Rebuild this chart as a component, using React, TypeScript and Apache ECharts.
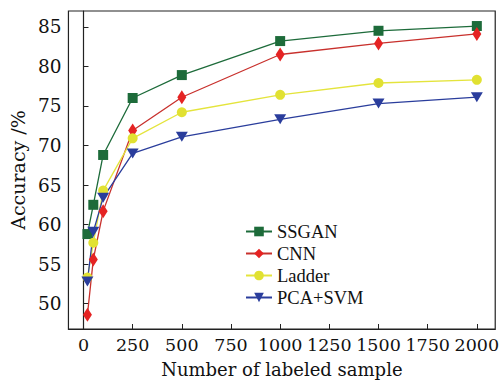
import React, { useEffect, useRef } from "react";
import * as echarts from "echarts";

const sampleSizes = [20, 50, 100, 250, 500, 1000, 1500, 2000];
const ssgan = [58.8, 62.5, 68.8, 76.0, 78.9, 83.2, 84.5, 85.1];
const cnn = [48.6, 55.6, 61.7, 71.9, 76.1, 81.5, 82.9, 84.1];
const ladder = [53.3, 57.7, 64.3, 70.9, 74.2, 76.4, 77.9, 78.3];
const pcaSvm = [52.8, 59.1, 63.4, 69.0, 71.1, 73.3, 75.3, 76.1];

const seriesNames = ["SSGAN", "CNN", "Ladder", "PCA+SVM"];
const xTicks = [0, 250, 500, 750, 1000, 1250, 1500, 1750, 2000];
const yTicks = [50, 55, 60, 65, 70, 75, 80, 85];

const FONT = "DejaVu Serif";
const LEGEND_FONT = "Liberation Serif";

export default function App() {
  const ref = useRef<HTMLDivElement>(null);
  useEffect(() => {
    if (!ref.current) return;
    const chart = echarts.init(ref.current, null, { renderer: "svg" });
    const mk = (arr: number[]) => sampleSizes.map((x, i) => [x, arr[i]]);
    chart.setOption({
      animation: false,
      backgroundColor: "#fff",
      textStyle: { fontFamily: FONT },
      grid: {
        left: 66,
        right: 2,
        top: 11,
        bottom: 49,
        show: true,
        borderColor: "#222",
        borderWidth: 1.2,
      },
      legend: {
        orient: "vertical",
        left: 240,
        top: 217,
        itemWidth: 26,
        itemHeight: 12,
        itemGap: 3,
        textStyle: {
          fontFamily: LEGEND_FONT,
          fontSize: 18.5,
          color: "#111",
        },
        data: seriesNames,
      },
      xAxis: {
        type: "value",
        min: -76.5,
        max: 2093.5,
        name: "Number of labeled sample",
        nameLocation: "middle",
        nameGap: 31,
        nameTextStyle: { fontFamily: FONT, fontSize: 18, color: "#111" },
        axisLine: { show: true, lineStyle: { color: "#222", width: 1.2 } },
        axisTick: { show: true, inside: true, length: 5, customValues: xTicks, lineStyle: { color: "#222" } },
        axisLabel: {
          customValues: xTicks,
          formatter: (v: number) => String(v),
          fontFamily: FONT,
          fontSize: 17.5,
          color: "#111",
          margin: 7,
        },
        splitLine: { show: false },
      },
      yAxis: {
        type: "value",
        min: 46.8,
        max: 87,
        name: "Accuracy /%",
        nameLocation: "middle",
        nameGap: 36,
        nameRotate: 90,
        nameTextStyle: { fontFamily: FONT, fontSize: 19, color: "#111" },
        axisLine: { show: true, lineStyle: { color: "#222", width: 1.2 } },
        axisTick: { show: true, inside: true, length: 5, customValues: yTicks, lineStyle: { color: "#222" } },
        axisLabel: {
          customValues: yTicks,
          formatter: (v: number) => String(v),
          fontFamily: FONT,
          fontSize: 18.5,
          color: "#111",
          margin: 7,
        },
        splitLine: { show: false },
      },
      series: [
        {
          name: "SSGAN",
          type: "line",
          data: mk(ssgan),
          symbol: "rect",
          symbolSize: 10,
          color: "#1d6b3a",
          lineStyle: { color: "#1d6b3a", width: 1.3 },
          itemStyle: { color: "#1d6b3a" },
          clip: false,
        },
        {
          name: "CNN",
          type: "line",
          data: mk(cnn),
          symbol: "diamond",
          symbolSize: [9, 14],
          color: "#e52323",
          lineStyle: { color: "#c8302c", width: 1.3 },
          itemStyle: { color: "#e52323" },
          clip: false,
        },
        {
          name: "Ladder",
          type: "line",
          data: mk(ladder),
          symbol: "circle",
          symbolSize: 10,
          color: "#e1e132",
          lineStyle: { color: "#e4e43c", width: 1.3 },
          itemStyle: { color: "#e1e132" },
          clip: false,
        },
        {
          name: "PCA+SVM",
          type: "line",
          data: mk(pcaSvm),
          symbol: "triangle",
          symbolRotate: 180,
          symbolSize: [12, 10],
          color: "#2a3d9c",
          lineStyle: { color: "#2a3d9c", width: 1.3 },
          itemStyle: { color: "#2a3d9c" },
          clip: false,
        },
      ],
    });
    return () => chart.dispose();
  }, []);
  return (
    <div
      ref={ref}
      style={{ position: "absolute", left: 0, top: 0, width: 502, height: 383 }}
    />
  );
}
